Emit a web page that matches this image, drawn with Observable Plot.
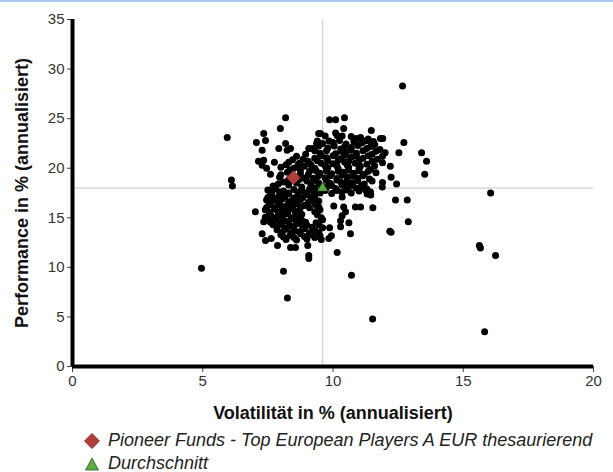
<!DOCTYPE html>
<html><head><meta charset="utf-8">
<script src="https://cdn.jsdelivr.net/npm/d3@7"></script>
<script src="https://cdn.jsdelivr.net/npm/@observablehq/plot@0.6"></script>
<style>
html,body{margin:0;padding:0;overflow:hidden;background:#fff;width:613px;height:472px}
#wrap{position:relative;width:613px;height:472px;border-top:2px solid #a9ccef;box-sizing:border-box}
#chart{position:absolute;left:0;top:0}
#legend{position:absolute;left:83px;top:427px;font:italic 18px "Liberation Sans",Arial,sans-serif;color:#222}
.item{height:23px;display:flex;align-items:center;white-space:nowrap}
.item svg{width:18px;height:18px;margin-right:7px;flex:none}
[aria-label="x-axis label"],[aria-label="y-axis label"]{font-weight:bold;font-size:18px;fill:#111}
</style></head>
<body>
<div id="wrap"><div id="chart"></div>
<div id="legend">
<div class="item"><svg viewBox="0 0 18 18"><polygon points="9,1.5 16.5,9 9,16.5 1.5,9" fill="#b03f3b" stroke="#6d2220" stroke-width="0.8"/></svg><span id="lg1"></span></div>
<div class="item"><svg viewBox="0 0 18 18"><polygon points="9,3 15.5,15 2.5,15" fill="#5fa845" stroke="#2f5e22" stroke-width="0.8"/></svg><span id="lg2"></span></div>
</div></div>
<script>
const xTicks = [0, 5, 10, 15, 20];
const yTicks = [0, 5, 10, 15, 20, 25, 30, 35];
const xLabel = "Volatilität in % (annualisiert)";
const yLabel = "Performance in % (annualisiert)";
const fundName = "Pioneer Funds - Top European Players A EUR thesaurierend";
const avgName = "Durchschnitt";
const fund = [[8.48, 19.05]];
const average = [[9.6, 18.0]];

const outliers = [[4.95,9.9],[5.94,23.1],[6.1,18.8],[6.14,18.2],[12.67,28.3],[16.05,17.5],[15.62,12.2],[15.66,11.95],[16.24,11.2],[15.82,3.5],[11.52,4.8],[8.25,6.9],[10.71,9.2],[8.1,9.6]];
const upperFringe = [[8.18,25.1],[7.98,24.0],[7.34,23.5],[7.06,22.6],[7.41,22.8],[8.18,22.5],[7.92,22.0],[8.24,21.8],[8.37,22.0],[7.28,21.8],[7.34,20.8],[7.14,20.7],[7.28,20.3],[7.45,20.0],[9.07,22.0],[9.37,22.5],[9.52,23.5],[9.87,24.9],[10.1,24.9],[10.44,25.1],[10.41,24.0],[10.16,23.3],[11.47,23.8],[11.06,23.1],[11.37,22.8],[11.82,23.0],[11.91,23.0],[12.72,22.6],[12.53,21.55],[13.4,21.55],[13.59,20.7],[13.52,19.4],[12.2,20.2],[12.23,19.1],[12.44,18.4],[11.89,18.1],[12.4,16.8],[12.85,16.8],[12.89,14.6],[12.18,13.65],[12.23,13.55]];
const lowerFringe = [[7.02,15.6],[7.34,14.6],[7.28,13.4],[7.63,12.9],[7.41,12.7],[7.87,12.2],[8.37,12.0],[8.56,12.0],[9.03,12.2],[9.07,11.2],[9.07,10.9],[9.55,12.8],[9.84,12.9],[9.94,13.2],[9.87,14.0],[10.16,11.5],[10.61,14.5],[10.67,13.4],[10.29,14.7],[10.29,14.1],[10.35,15.2],[10.48,15.6],[10.41,16.1],[10.03,16.2],[10.35,17.1],[10.86,16.1],[11.06,16.1],[11.53,16.0],[11.31,17.4],[11.44,17.6],[11.25,17.8]];
const denseLow = [[7.5,17.8],[7.8,17.9],[8.1,17.7],[8.5,17.85],[8.8,17.75],[9.1,17.9],[9.35,17.7],
[7.65,17.55],[7.95,17.6],[8.3,17.5],[8.65,17.55],[8.95,17.5],[9.25,17.6],
[7.6,17.3],[7.95,17.25],[8.3,17.4],[8.65,17.2],[9.0,17.35],[9.3,17.2],
[7.5,17.05],[7.8,17.0],[8.15,17.1],[8.5,17.0],[8.85,17.05],[9.15,17.0],
[7.45,16.8],[7.7,16.75],[8.05,16.9],[8.4,16.7],[8.75,16.85],[9.2,16.8],[9.45,16.7],
[7.6,16.55],[7.95,16.5],[8.3,16.6],[8.65,16.5],[9.05,16.55],[9.3,16.5],
[7.55,16.3],[7.9,16.35],[8.2,16.2],[8.55,16.4],[8.9,16.25],[9.35,16.3],
[7.45,16.05],[7.75,16.0],[8.05,16.1],[8.35,16.0],[8.75,16.05],[9.1,16.0],[9.45,16.1],
[7.4,15.8],[7.75,15.85],[8.1,15.7],[8.45,15.9],[8.7,15.75],[9.5,15.8],
[7.55,15.55],[7.9,15.6],[8.25,15.5],[8.55,15.55],[9.3,15.6],
[7.6,15.3],[7.9,15.25],[8.25,15.4],[8.6,15.2],[8.8,15.35],[9.4,15.3],
[7.4,15.05],[7.75,15.0],[8.05,15.1],[8.4,15.0],[8.7,15.05],[9.55,15.0],
[7.5,14.8],[7.8,14.85],[8.15,14.7],[8.45,14.9],[8.8,14.75],[9.6,14.8],
[7.6,14.55],[7.95,14.5],[8.3,14.6],[8.6,14.5],[8.95,14.55],[9.35,14.5],
[7.7,14.3],[8.0,14.35],[8.35,14.2],[8.7,14.4],[9.0,14.25],[9.45,14.3],
[7.85,14.05],[8.15,14.0],[8.5,14.1],[8.85,14.0],[9.2,14.05],[9.6,14.0],
[7.85,13.8],[8.2,13.85],[8.5,13.7],[8.9,13.9],[9.3,13.75],
[8.05,13.55],[8.4,13.5],[8.7,13.6],[9.1,13.5],[9.45,13.55],
[8.0,13.3],[8.35,13.25],[8.75,13.4],[9.2,13.3],[9.5,13.2],
[8.1,13.05],[8.5,13.0],[8.9,13.1],[9.3,13.0],
[8.2,12.8],[8.6,12.75],[9.0,12.85]];
const denseMid = [[8.3,20.6],[8.7,20.5],[9.05,20.7],[8.45,20.85],[8.85,20.9],
[8.0,20.1],[8.5,20.0],[8.9,20.2],[8.2,20.35],[8.65,20.3],[9.15,20.35],
[8.25,19.6],[8.75,19.5],[9.1,19.7],[8.35,19.85],[8.75,19.85],
[7.95,19.1],[8.9,19.0],[8.0,19.35],[9.05,19.35],
[8.1,18.6],[8.6,18.5],[9.0,18.7],[8.3,18.85],[8.7,18.85],
[7.7,18.2],[8.3,18.3],[8.8,18.1],[7.9,18.4],[9.15,18.4],
[7.6,19.4],[7.75,20.6],[8.6,21.2],[8.95,21.4]];
const denseHigh = [[9.45,23.5],[10.1,23.55],[9.7,23.25],[10.35,23.25],[10.7,23.2],
[10.9,23.0],[11.35,22.95],
[9.4,22.75],[9.85,22.75],[10.25,22.8],[10.8,22.7],[11.25,22.75],[11.55,22.7],
[9.6,22.5],[10.0,22.6],[10.5,22.45],[11.1,22.55],[11.6,22.4],
[9.45,22.25],[10.05,22.25],[10.45,22.2],[10.95,22.3],[11.45,22.2],
[9.2,22.0],[9.8,22.05],[10.3,21.95],[10.7,22.1],[11.3,22.0],[11.8,21.9],
[9.3,21.75],[9.75,21.75],[10.3,21.7],[10.7,21.8],[11.15,21.75],[11.65,21.7],
[9.5,21.5],[10.1,21.45],[10.5,21.6],[10.9,21.5],[11.5,21.4],[12.0,21.55],
[9.55,21.25],[10.0,21.25],[10.45,21.3],[10.9,21.2],[11.35,21.25],[11.9,21.2],
[9.3,21.0],[9.75,21.05],[10.3,20.95],[10.7,21.1],[11.15,21.0],[11.7,20.9],
[9.4,20.75],[9.8,20.75],[10.2,20.8],[10.6,20.7],[11.0,20.75],[11.5,20.7],
[9.55,20.5],[10.0,20.45],[10.45,20.6],[10.85,20.5],[11.3,20.4],[11.9,20.55],
[9.7,20.25],[10.15,20.25],[10.55,20.3],[11.05,20.2],[11.6,20.25],
[9.3,20.0],[9.8,20.05],[10.2,19.95],[10.6,20.1],[11.0,20.0],[11.45,19.9],
[9.35,19.75],[9.75,19.75],[10.2,19.7],[10.6,19.8],[11.0,19.75],[11.35,19.7],
[9.5,19.5],[9.95,19.45],[10.4,19.6],[10.8,19.5],[11.2,19.4],[11.65,19.55],
[9.45,19.25],[9.9,19.25],[10.35,19.3],[10.75,19.2],[11.15,19.25],
[9.25,19.0],[9.7,19.05],[10.15,18.95],[10.55,19.1],[10.95,19.0],[11.4,18.9],
[9.35,18.75],[9.75,18.75],[10.15,18.8],[10.55,18.7],[10.95,18.75],[11.5,18.7],
[9.45,18.5],[9.9,18.45],[10.3,18.6],[10.75,18.5],[11.2,18.4],[11.9,18.55],
[9.55,18.25],[9.95,18.25],[10.35,18.3],[10.7,18.2],[11.1,18.25],
[9.3,18.0],[9.75,18.05],[10.1,17.95],[10.5,18.1],[10.9,18.0],[11.3,17.9],
[9.7,17.75],[10.15,17.75],[10.55,17.8],[11.0,17.7],
[9.5,17.5],[9.95,17.45],[10.35,17.6],[10.7,17.5],[11.45,17.3]];

const peers = [...outliers, ...upperFringe, ...lowerFringe, ...denseLow, ...denseMid, ...denseHigh];

const chart = Plot.plot({
  width: 613, height: 422,
  marginTop: 17, marginLeft: 72, marginRight: 20, marginBottom: 58,
  style: {fontFamily: "'Liberation Sans', Arial, sans-serif", fontSize: "15px", color: "#333", background: "white", overflow: "visible"},
  x: {domain: [0, 20]},
  y: {domain: [0, 35]},
  marks: [
    Plot.ruleX(average, {x: d => d[0], stroke: "#d2d2d2", strokeWidth: 1.3}),
    Plot.ruleY(average, {y: d => d[1], stroke: "#d2d2d2", strokeWidth: 1.3}),
    Plot.axisX({ticks: xTicks, tickSize: 6, tickPadding: 3, stroke: "#444", label: xLabel, labelAnchor: "center", labelArrow: "none", labelOffset: 52}),
    Plot.axisY({ticks: yTicks, tickSize: 5, tickPadding: 3, stroke: "#444", label: yLabel, labelAnchor: "center", labelArrow: "none", labelOffset: 57}),
    Plot.dot(peers, {x: d => d[0], y: d => d[1], r: 3.5, fill: "black"}),
    Plot.ruleX([0], {stroke: "black", strokeWidth: 4}),
    Plot.ruleY([0], {stroke: "black", strokeWidth: 4}),
    Plot.dot(fund, {x: d => d[0], y: d => d[1], symbol: "diamond2", r: 6.3, fill: "#b03f3b", stroke: "#6d2220", strokeWidth: 0.8}),
    Plot.dot(average, {x: d => d[0], y: d => d[1], symbol: "triangle", r: 3.8, fill: "#5fa845", stroke: "#2f5e22", strokeWidth: 0.6})
  ]
});
document.getElementById("chart").appendChild(chart);
document.getElementById("lg1").textContent = fundName;
document.getElementById("lg2").textContent = avgName;
</script>
</body></html>
